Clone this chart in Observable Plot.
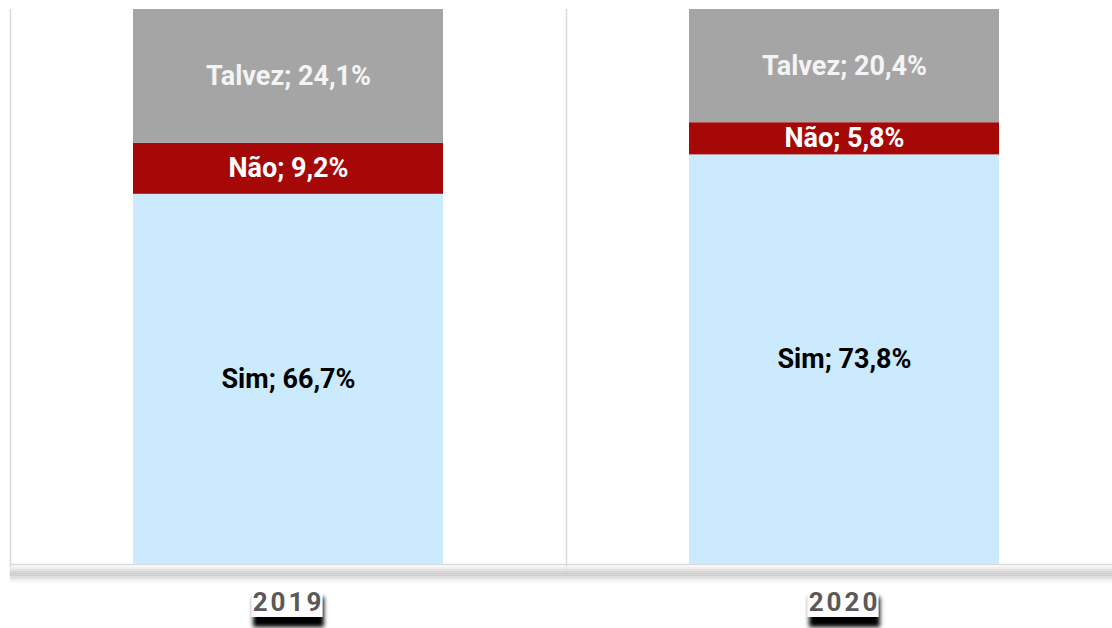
<!DOCTYPE html>
<html>
<head>
<meta charset="utf-8">
<script src="https://cdn.jsdelivr.net/npm/d3@7"></script>
<script src="https://cdn.jsdelivr.net/npm/@observablehq/plot@0.6"></script>
<style>
  html, body { margin: 0; padding: 0; background: #fff; overflow: hidden; }
  #chart svg { overflow: visible; }
</style>
</head>
<body>
<div id="chart"></div>
<script>
const years = ["2019", "2020"];
const answers = ["Sim", "Não", "Talvez"];
const sim = [66.7, 73.8];
const nao = [9.2, 5.8];
const talvez = [24.1, 20.4];

const colors = ["#cbeafd", "#a60707", "#a5a5a5"];
const labelColors = ["#000000", "#ffffff", "#f4f4f4"];

const series = [sim, nao, talvez];
const data = [];
years.forEach((y, i) => {
  answers.forEach((a, j) => {
    data.push({year: y, answer: a, value: series[j][i]});
  });
});
const fmt = v => v.toFixed(1).replace(".", ",") + "%";

const W = 1112, H = 628;
const step = (1122 - 10) / years.length;

const shadowBands = [
  {dy: 3, c: "#f0f0f0"}, {dy: 5, c: "#e4e4e4"}, {dy: 7, c: "#d6d6d6"},
  {dy: 9, c: "#cbcbcb"}, {dy: 11, c: "#cdcdcd"}, {dy: 13, c: "#dadada"},
  {dy: 15, c: "#e9e9e9"}, {dy: 17, c: "#f5f5f5"}
];

const plot = Plot.plot({
  width: W,
  height: H,
  marginTop: 9,
  marginBottom: 64,
  marginLeft: 10,
  marginRight: -10,
  style: {fontFamily: "Roboto, 'Open Sans', sans-serif", background: "transparent"},
  x: {domain: years, range: [10, 1122], padding: 0, label: null},
  y: {domain: [0, 100], axis: null},
  color: {domain: answers, range: colors},
  marks: [
    Plot.ruleX(years, {x: d => d, dx: -step / 2, y1: 100, y2: 0, stroke: "#d9d9d9", strokeWidth: 1.5, insetBottom: -12}),
    ...shadowBands.map(b => Plot.ruleY([0], {dy: b.dy, stroke: b.c, strokeWidth: 2.2})),
    Plot.ruleY([0], {stroke: "#d9d9d9", strokeWidth: 1.5}),
    Plot.barY(data, {x: "year", y: "value", fill: "answer", order: answers, insetLeft: 123, insetRight: 123}),
    Plot.text(data, Plot.stackY({
      x: "year", y: "value", order: answers,
      text: d => `${d.answer}; ${fmt(d.value)}`,
      fill: d => labelColors[answers.indexOf(d.answer)],
      fontSize: 27, fontWeight: "bold"
    })),
    Plot.axisX({tickSize: 0, tickPadding: 28, fontSize: 26, fontWeight: "bold", fill: "#595959", label: null})
  ]
});

document.getElementById("chart").appendChild(plot);

// Excel-like boxed label with drop shadow under each year
const svg = d3.select(plot);
const defs = svg.insert("defs", ":first-child");
const f = defs.append("filter").attr("id", "boxshadow").attr("x", "-20%").attr("y", "-20%").attr("width", "140%").attr("height", "160%");
f.append("feDropShadow").attr("dx", 1.5).attr("dy", 10).attr("stdDeviation", 2).attr("flood-color", "#000").attr("flood-opacity", 1);

svg.selectAll('g[aria-label="x-axis tick label"] text').each(function() {
  this.setAttribute("letter-spacing", "3");
  const g = this.parentNode;
  const bb = this.getBBox();
  const r = document.createElementNS("http://www.w3.org/2000/svg", "rect");
  r.setAttribute("x", bb.x - 1);
  r.setAttribute("y", bb.y);
  r.setAttribute("width", bb.width - 1);
  r.setAttribute("height", bb.height);
  r.setAttribute("fill", "#fff");
  r.setAttribute("filter", "url(#boxshadow)");
  const tr = this.getAttribute("transform");
  if (tr) r.setAttribute("transform", tr);
  g.insertBefore(r, this);
});
</script>
</body>
</html>
